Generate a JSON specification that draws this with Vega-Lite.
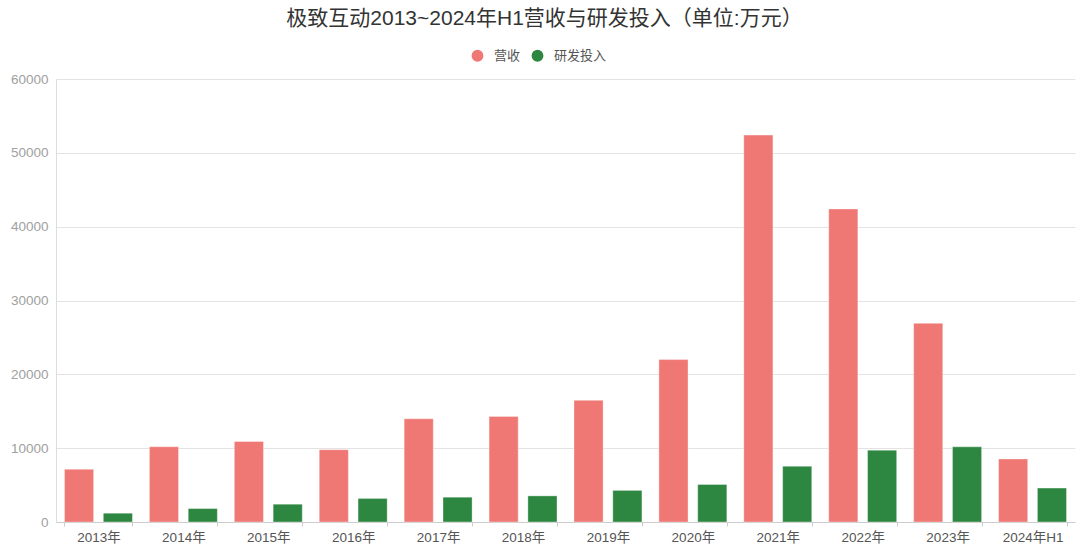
{
  "$schema": "https://vega.github.io/schema/vega-lite/v6.json",
  "width": 1019,
  "height": 443,
  "autosize": {"type": "none"},
  "padding": {"left": 56, "top": 79, "right": 5, "bottom": 25},
  "background": "#ffffff",
  "title": {
    "text": "极致互动2013~2024年H1营收与研发投入（单位:万元）",
    "anchor": "middle",
    "font": "Liberation Sans, Noto Sans CJK SC",
    "fontSize": 21,
    "fontWeight": "normal",
    "color": "#333333",
    "dx": -21,
    "offset": 20
  },
  "data": {
    "values": [
      {"year": "2013年", "type": "营收", "value": 7140},
      {"year": "2013年", "type": "研发投入", "value": 1190},
      {"year": "2014年", "type": "营收", "value": 10200},
      {"year": "2014年", "type": "研发投入", "value": 1820},
      {"year": "2015年", "type": "营收", "value": 10900},
      {"year": "2015年", "type": "研发投入", "value": 2410},
      {"year": "2016年", "type": "营收", "value": 9800},
      {"year": "2016年", "type": "研发投入", "value": 3190},
      {"year": "2017年", "type": "营收", "value": 13980},
      {"year": "2017年", "type": "研发投入", "value": 3360},
      {"year": "2018年", "type": "营收", "value": 14300},
      {"year": "2018年", "type": "研发投入", "value": 3540},
      {"year": "2019年", "type": "营收", "value": 16480},
      {"year": "2019年", "type": "研发投入", "value": 4280},
      {"year": "2020年", "type": "营收", "value": 22000},
      {"year": "2020年", "type": "研发投入", "value": 5090},
      {"year": "2021年", "type": "营收", "value": 52400},
      {"year": "2021年", "type": "研发投入", "value": 7550},
      {"year": "2022年", "type": "营收", "value": 42400},
      {"year": "2022年", "type": "研发投入", "value": 9730},
      {"year": "2023年", "type": "营收", "value": 26910},
      {"year": "2023年", "type": "研发投入", "value": 10180},
      {"year": "2024年H1", "type": "营收", "value": 8540},
      {"year": "2024年H1", "type": "研发投入", "value": 4590}
    ]
  },
  "mark": {
    "type": "bar",
    "stroke": "#ffffff",
    "strokeWidth": 1,
    "strokeOpacity": 0.35
  },
  "encoding": {
    "x": {
      "field": "year",
      "type": "nominal",
      "sort": null,
      "scale": {"paddingInner": 0.2, "paddingOuter": 0.1},
      "axis": {
        "title": null,
        "labelAngle": 0,
        "labelFont": "Liberation Sans, Noto Sans CJK SC",
        "labelFontSize": 13.5,
        "labelColor": "#555555",
        "labelPadding": 4,
        "tickBand": "extent",
        "tickSize": 4,
        "tickColor": "#cccccc",
        "domainColor": "#cccccc",
        "grid": false
      }
    },
    "xOffset": {
      "field": "type",
      "sort": ["营收", "研发投入"],
      "scale": {"paddingInner": 0.25}
    },
    "y": {
      "field": "value",
      "type": "quantitative",
      "scale": {"domain": [0, 60000]},
      "axis": {
        "title": null,
        "tickCount": 6,
        "format": "d",
        "ticks": false,
        "labelFont": "Liberation Sans",
        "labelFontSize": 13.5,
        "labelColor": "#a0a0a0",
        "labelPadding": 8,
        "domainColor": "#dddddd",
        "gridColor": "#e3e3e3"
      }
    },
    "color": {
      "field": "type",
      "type": "nominal",
      "scale": {"domain": ["营收", "研发投入"], "range": ["#ef7874", "#2e8741"]},
      "legend": {
        "title": null,
        "orient": "none",
        "direction": "horizontal",
        "legendX": 415,
        "legendY": -30,
        "symbolType": "circle",
        "symbolSize": 140,
        "symbolStrokeWidth": 0,
        "labelFont": "Noto Sans CJK SC",
        "labelFontSize": 13,
        "labelColor": "#555555",
        "labelOffset": 10,
        "columnPadding": 10
      }
    }
  },
  "config": {
    "view": {"stroke": null}
  }
}
